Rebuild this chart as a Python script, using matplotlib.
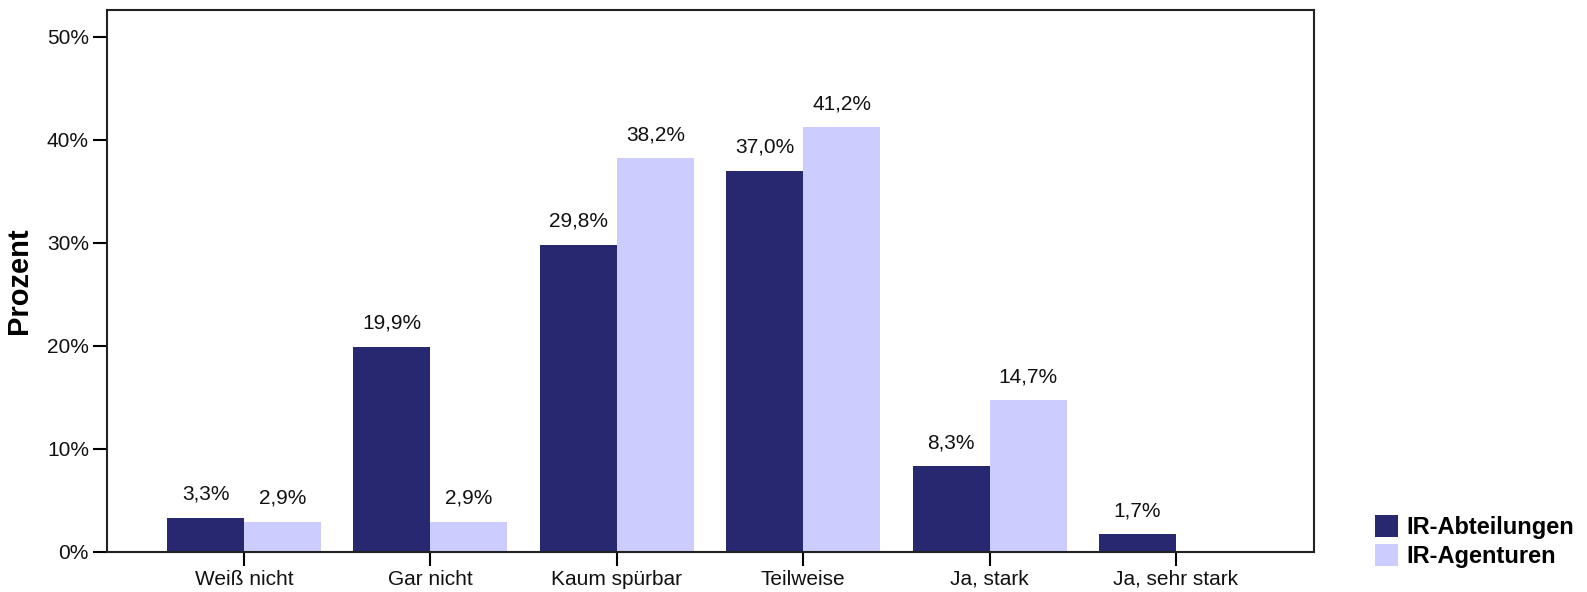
import matplotlib
matplotlib.use("Agg")
import matplotlib.pyplot as plt
from matplotlib.patches import Patch
from matplotlib.ticker import FuncFormatter
import numpy as np

categories = ["Weiß nicht", "Gar nicht", "Kaum spürbar", "Teilweise", "Ja, stark", "Ja, sehr stark"]
abteilungen = [3.3, 19.9, 29.8, 37.0, 8.3, 1.7]
agenturen = [2.9, 2.9, 38.2, 41.2, 14.7, None]
series_names = ["IR-Abteilungen", "IR-Agenturen"]
yticks = [0, 10, 20, 30, 40, 50]

plt.rcParams['font.family'] = ['Liberation Sans', 'DejaVu Sans']

dark = "#282870"
light = "#ccccff"

fig = plt.figure(figsize=(15.87, 5.92), dpi=100)
ax = fig.add_axes([107/1587, 1 - 551.7/592, (1314-107)/1587, (551.7-10.2)/592])

x = np.arange(len(categories))
w = 0.413

def fmt(v):
    return f"{v:.1f}".replace(".", ",") + "%"

for vals, off, col in [(abteilungen, -w/2, dark), (agenturen, w/2, light)]:
    xs = [xi + off for xi, v in zip(x, vals) if v is not None]
    vs = [v for v in vals if v is not None]
    ax.bar(xs, vs, width=w, color=col, edgecolor='none', zorder=2)
    for xi, v in zip(xs, vs):
        ax.annotate(fmt(v), (xi, v), xytext=(0, 10), textcoords='offset points',
                    ha='center', va='bottom', fontsize=15, color='#111111')

ax.set_xlim(-0.735, 5.74)
ax.set_ylim(0, 52.56)
ax.set_xticks(x)
ax.set_xticklabels(categories, fontsize=15, color='#111111')
ax.set_yticks(yticks)
ax.yaxis.set_major_formatter(FuncFormatter(lambda v, p: f"{int(v)}%"))
ax.tick_params(axis='y', labelsize=15, labelcolor='#111111', length=10, width=1.5, pad=3)
ax.tick_params(axis='x', length=10, width=1.5, pad=3)
for s in ax.spines.values():
    s.set_linewidth(1.5)
    s.set_color('#222222')
ax.set_ylabel("Prozent", fontsize=21, fontweight='bold')
ax.yaxis.set_label_coords(-0.061, 0.5)

handles = [Patch(facecolor=dark, edgecolor='none'), Patch(facecolor=light, edgecolor='none')]
fig.legend(handles, series_names, loc='lower left', bbox_to_anchor=(1375/1587, 1 - 568/592),
           frameon=False, prop={'weight': 'bold', 'size': 17}, handlelength=0.98,
           handleheight=1.06, handletextpad=0.36, labelspacing=0.22, borderpad=0,
           borderaxespad=0)

fig.savefig("out.png", dpi=100)
